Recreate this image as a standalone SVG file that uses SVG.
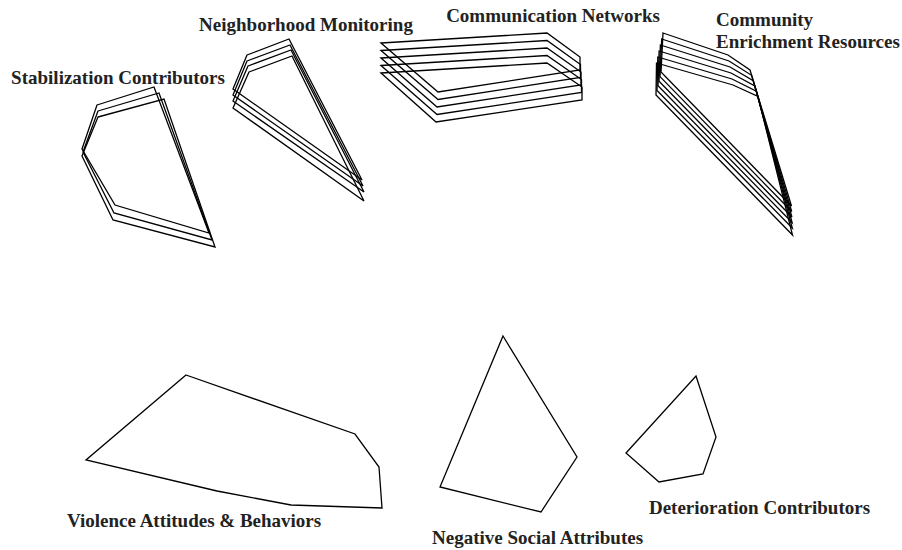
<svg xmlns="http://www.w3.org/2000/svg" width="902" height="550" viewBox="0 0 902 550">
<style>
.p{fill:none;stroke:#000;stroke-width:1.3;stroke-linejoin:miter}
.t{font-family:"Liberation Serif","Times New Roman",serif;font-weight:bold;font-size:19px;fill:#222}
</style>
<rect width="902" height="550" fill="#fff"/>
<g id="stabilization-contributors">
<polygon class="p" points="97,105 154,87 209,233 115,205 82,149"/>
<polygon class="p" points="98,111 159,93 212,240 114,213 83,152"/>
<polygon class="p" points="98,117 164,99 215,247 113,220 82,156"/>
<text class="t" x="118" y="84" text-anchor="middle">Stabilization Contributors</text>
</g>
<g id="neighborhood-monitoring">
<polygon class="p" points="247,55 289,39 362,180 233,89"/>
<polygon class="p" points="247,61 290,45 363,186 233,95"/>
<polygon class="p" points="248,66 291,50 364,192 233,101"/>
<polygon class="p" points="249,72 292,56 364,201 233,108"/>
<text class="t" x="306" y="31" text-anchor="middle">Neighborhood Monitoring</text>
</g>
<g id="communication-networks">
<polygon class="p" points="381,43 547,33 580,57 580,70 438,92"/>
<polygon class="p" points="381,50.5 547,40.5 580.5,64.5 580.5,77.5 438,99.5"/>
<polygon class="p" points="381,58 547,48 581,72 581,85 437,107"/>
<polygon class="p" points="381,65.5 547,55.5 581.5,79.5 581.5,92.5 437,114.5"/>
<polygon class="p" points="381,73 547,63 582,87 582,100 436,122"/>
<text class="t" x="553" y="22" text-anchor="middle">Communication Networks</text>
</g>
<g id="community-enrichment-resources">
<polygon class="p" points="663,33 728,55 750,70 791.5,206 661,72"/>
<polygon class="p" points="661.7,39 729,61 751.6,75.3 791.7,211.5 660,76.6"/>
<polygon class="p" points="660.4,45 730,67 753.2,80.6 791.9,217 659,81.2"/>
<polygon class="p" points="659.1,51 731,73 754.8,85.9 792.1,222.5 658,85.8"/>
<polygon class="p" points="657.8,57 732,79 756.4,91.2 792.3,228 657,90.4"/>
<polygon class="p" points="656.5,63 733,85 758,96.5 792.5,235 656,95"/>
<text class="t" x="716" y="26">Community</text>
<text class="t" x="716" y="47.5">Enrichment Resources</text>
</g>
<g id="violence-attitudes-behaviors">
<polygon class="p" points="186,375 355,434 379,467 382,508 291,505 217,491 86,460"/>
<text class="t" x="67" y="527">Violence Attitudes &amp; Behaviors</text>
</g>
<g id="negative-social-attributes">
<polygon class="p" points="503,336 577,457 541,512 440,487"/>
<text class="t" x="432" y="544">Negative Social Attributes</text>
</g>
<g id="deterioration-contributors">
<polygon class="p" points="696,376 716,437 703,474 659,482 626,453"/>
<text class="t" x="759.5" y="514" text-anchor="middle">Deterioration Contributors</text>
</g>
<g id="connectors"></g>
</svg>
